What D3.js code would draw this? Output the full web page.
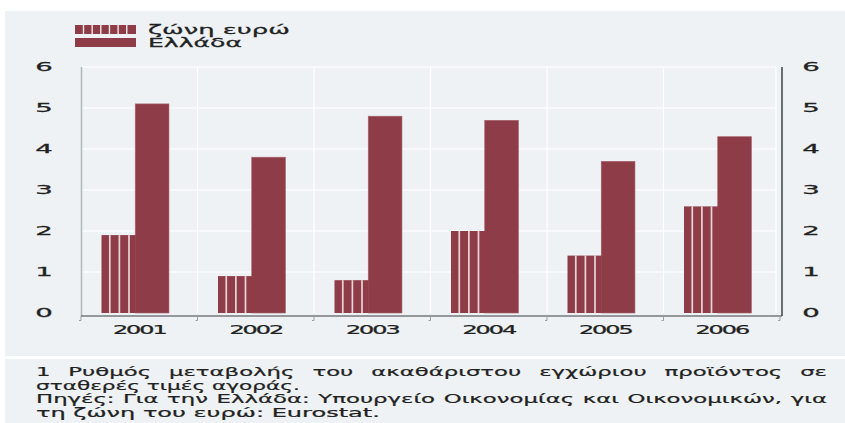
<!DOCTYPE html>
<html>
<head>
<meta charset="utf-8">
<script src="https://cdn.jsdelivr.net/npm/d3@7"></script>
<style>
  html, body { margin: 0; padding: 0; background: #ffffff; }
  svg { display: block; }
</style>
</head>
<body>
<svg id="chart" width="845" height="423"></svg>
<script>
// Real GDP growth, euro area vs Greece (%)
const years = ["2001", "2002", "2003", "2004", "2005", "2006"];
const euroArea = [1.9, 0.9, 0.8, 2.0, 1.4, 2.6];
const greece = [5.1, 3.8, 4.8, 4.7, 3.7, 4.3];
const yTicks = [0, 1, 2, 3, 4, 5, 6];
const seriesNames = ["ζώνη ευρώ", "Ελλάδα"];
const noteLines = [
  "1 Ρυθμός μεταβολής του ακαθάριστου εγχώριου προϊόντος σε",
  "σταθερές τιμές αγοράς.",
  "Πηγές: Για την Ελλάδα: Υπουργείο Οικονομίας και Οικονομικών, για",
  "τη ζώνη του ευρώ: Eurostat."
];
const noteJustified = [true, false, true, false];

const BAR = "#8e3c47";
const PANEL = "#eef2f4";
const TEXT = "#222222";
const FONT = "'DejaVu Sans', sans-serif";

const svg = d3.select("#chart");

// background panels
svg.append("rect").attr("x", 5).attr("y", 11).attr("width", 840).attr("height", 345).attr("fill", PANEL);
svg.append("rect").attr("x", 5).attr("y", 359).attr("width", 840).attr("height", 64).attr("fill", PANEL);

// scales
const x = d3.scaleBand().domain(years).range([81, 780]).paddingInner(0).paddingOuter(0);
const bw = x.bandwidth();
const xs = d3.scaleBand().domain(["euro", "greece"]).range([bw * 0.176, bw * 0.755]);
const y = d3.scaleLinear().domain([0, 6]).range([313, 67]);

// gridlines
const grid = svg.append("g");
grid.selectAll("line.h").data(yTicks.filter(d => d > 0)).join("line")
  .attr("x1", 81).attr("x2", 776)
  .attr("y1", d => y(d)).attr("y2", d => y(d))
  .attr("stroke", "#ffffff").attr("stroke-width", 1.2);
grid.selectAll("line.v").data(years.slice(1)).join("line")
  .attr("x1", d => x(d)).attr("x2", d => x(d))
  .attr("y1", y(6)).attr("y2", y(0))
  .attr("stroke", "#ffffff").attr("stroke-width", 1.2);
grid.append("line").attr("x1", 776).attr("x2", 776).attr("y1", y(6)).attr("y2", y(0))
  .attr("stroke", "#ffffff").attr("stroke-width", 1.2);

// bars
const rows = years.map((yr, i) => ({ year: yr, euro: euroArea[i], greece: greece[i] }));
const bars = svg.append("g");
bars.selectAll("rect.greece").data(rows).join("rect")
  .attr("x", d => x(d.year) + xs("greece"))
  .attr("width", xs.bandwidth())
  .attr("y", d => y(d.greece))
  .attr("height", d => y(0) - y(d.greece))
  .attr("fill", BAR).attr("stroke", "#a7636b").attr("stroke-width", 0.6);
bars.selectAll("rect.euro").data(rows).join("rect")
  .attr("x", d => x(d.year) + xs("euro"))
  .attr("width", xs.bandwidth() + 0.5)
  .attr("y", d => y(d.euro))
  .attr("height", d => y(0) - y(d.euro))
  .attr("fill", BAR);
// stripe gaps on euro-area bars
const gapFracs = [0.22, 0.505, 0.79];
rows.forEach(d => {
  bars.selectAll(null).data(gapFracs).enter().append("rect")
    .attr("x", f => x(d.year) + xs("euro") + f * xs.bandwidth())
    .attr("width", 1.7)
    .attr("y", y(d.euro))
    .attr("height", y(0) - y(d.euro))
    .attr("fill", "#f2e4e6").attr("opacity", 0.9);
});

// axes lines
svg.append("line").attr("x1", 81.5).attr("x2", 81.5).attr("y1", y(6)).attr("y2", 316)
  .attr("stroke", "#b4b9bd").attr("stroke-width", 1.6);
svg.append("line").attr("x1", 782).attr("x2", 782).attr("y1", y(6)).attr("y2", 316)
  .attr("stroke", "#4a4d50").attr("stroke-width", 1.6);
svg.append("line").attr("x1", 81).attr("x2", 782).attr("y1", 316).attr("y2", 316)
  .attr("stroke", "#3c3f42").attr("stroke-width", 1.2);

// category ticks
const tickPos = years.map(d => x(d)).concat([x(years[years.length - 1]) + bw]);
svg.append("g").selectAll("path").data(tickPos).join("path")
  .attr("d", p => `M${p},316V320.5H${p - 2}`)
  .attr("fill", "none").attr("stroke", "#9a9ea2").attr("stroke-width", 1);

// stretched text helper: scales glyphs horizontally
function stretched(parent, txt, px, py, sx, anchor, size) {
  return parent.append("text")
    .attr("transform", `translate(${px},${py}) scale(${sx},1)`)
    .attr("text-anchor", anchor)
    .attr("font-family", FONT).attr("font-size", size)
    .attr("fill", TEXT).attr("stroke", TEXT).attr("stroke-width", 0.25)
    .text(txt);
}
function fitTo(parent, txt, px, py, width, anchor, size, spacing) {
  const t = stretched(parent, txt, px, py, 1, anchor, size);
  if (spacing) t.attr("letter-spacing", spacing);
  const w = t.node().getBBox().width;
  t.attr("transform", `translate(${px},${py}) scale(${width / w},1)`);
  return t;
}

// x-axis labels
const xl = svg.append("g");
years.forEach(yr => fitTo(xl, yr, x(yr) + bw / 2, 333.5, 54, "middle", 11.5, -1));

// y-axis labels, both sides
const yl = svg.append("g");
yTicks.forEach(v => {
  stretched(yl, String(v), 44, y(v) + 4.2, 2.4, "middle", 11.5);
  stretched(yl, String(v), 811, y(v) + 4.2, 2.4, "middle", 11.5);
});

// legend
const lg = svg.append("g");
lg.append("rect").attr("x", 75).attr("y", 25).attr("width", 61).attr("height", 9).attr("fill", BAR);
lg.selectAll("rect.gap").data(d3.range(6)).join("rect")
  .attr("x", i => 82.8 + i * 8.65).attr("y", 25).attr("width", 1.4).attr("height", 9)
  .attr("fill", "#f4e8ea");
lg.append("rect").attr("x", 75).attr("y", 38).attr("width", 61).attr("height", 9).attr("fill", BAR);
fitTo(lg, seriesNames[0], 148, 33.5, 142, "start", 12.5);
fitTo(lg, seriesNames[1], 148, 47, 94, "start", 12.5);

// footnotes: short lines are fitted to their width, long lines are justified by word spacing
const fn = svg.append("g");
const FN_X = 36, FN_R = 827, FN_SIZE = 12;
function natWidth(s) {
  const t = fn.append("text").attr("font-family", FONT).attr("font-size", FN_SIZE).text(s);
  const w = t.node().getComputedTextLength();
  t.remove();
  return w;
}
const shortTargets = { 1: 264, 3: 344 };
const sxByLine = {};
Object.keys(shortTargets).forEach(k => { sxByLine[k] = shortTargets[k] / natWidth(noteLines[k]); });
const fnSx = d3.mean(Object.values(sxByLine));
noteLines.forEach((line, i) => {
  const by = 376 + i * 13.5;
  const sx = sxByLine[i] || fnSx;
  const g = fn.append("g").attr("transform", `translate(${FN_X},${by}) scale(${sx},1)`);
  const addText = (s, xx) => g.append("text").attr("x", xx)
    .attr("font-family", FONT).attr("font-size", FN_SIZE)
    .attr("fill", TEXT).attr("stroke", TEXT).attr("stroke-width", 0.2).text(s);
  if (noteJustified[i]) {
    const words = line.split(" ");
    const widths = words.map(natWidth);
    const total = (FN_R - FN_X) / sx;
    const gap = (total - d3.sum(widths)) / (words.length - 1);
    let cx = 0;
    words.forEach((w, k) => { addText(w, cx); cx += widths[k] + gap; });
  } else {
    addText(line, 0);
  }
});
</script>
</body>
</html>
